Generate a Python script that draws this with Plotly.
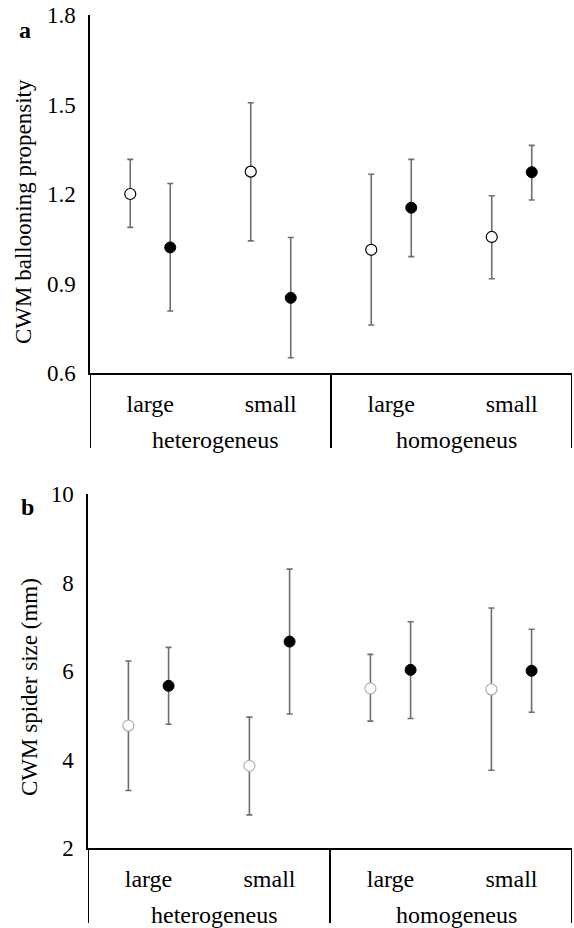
import plotly.graph_objects as go

# ---- data ----
habitat = ["heterogeneus", "heterogeneus", "homogeneus", "homogeneus"]
patch = ["large", "small", "large", "small"]
groups = ["heterogeneus", "homogeneus"]

ball_ticks = [0.6, 0.9, 1.2, 1.5, 1.8]
ball_open = [1.20, 1.275, 1.013, 1.056]
ball_open_hi = [1.316, 1.506, 1.266, 1.194]
ball_open_lo = [1.088, 1.043, 0.761, 0.916]
ball_fill = [1.021, 0.852, 1.154, 1.273]
ball_fill_hi = [1.235, 1.054, 1.316, 1.363]
ball_fill_lo = [0.808, 0.651, 0.990, 1.180]

size_ticks = [2, 4, 6, 8, 10]
size_open = [4.77, 3.86, 5.61, 5.59]
size_open_hi = [6.23, 4.96, 6.38, 7.43]
size_open_lo = [3.30, 2.75, 4.87, 3.76]
size_fill = [5.67, 6.67, 6.03, 6.01]
size_fill_hi = [6.54, 8.31, 7.12, 6.95]
size_fill_lo = [4.80, 5.03, 4.93, 5.07]

W, H = 574, 928
FONT = "Liberation Serif"
ERR = "#6e6e6e"
idx = list(range(len(patch)))


def px(x):
    return x / W


def py(y):
    return 1 - y / H


def err(v, hi, lo):
    return dict(type="data", symmetric=False,
                array=[h - x for h, x in zip(hi, v)],
                arrayminus=[x - l for x, l in zip(v, lo)],
                color=ERR, thickness=1.6, width=3)


fig = go.Figure()

# panel geometry (page pixels): x-axis baseline
panels = [
    dict(xa="x", ya="y", vo=ball_open, ho=ball_open_hi, lo=ball_open_lo,
         vf=ball_fill, hf=ball_fill_hi, lf=ball_fill_lo, ocol="black", base=373),
    dict(xa="x2", ya="y2", vo=size_open, ho=size_open_hi, lo=size_open_lo,
         vf=size_fill, hf=size_fill_hi, lf=size_fill_lo, ocol="#b0b0b0", base=848),
]
shapes, annotations = [], []
for p in panels:
    fig.add_trace(go.Scatter(
        x=idx, y=p["vo"], mode="markers", name="open", xaxis=p["xa"], yaxis=p["ya"],
        offsetgroup="open", showlegend=False,
        marker=dict(size=11, color="white", line=dict(color=p["ocol"], width=1.2)),
        error_y=err(p["vo"], p["ho"], p["lo"])))
    fig.add_trace(go.Scatter(
        x=idx, y=p["vf"], mode="markers", name="filled", xaxis=p["xa"], yaxis=p["ya"],
        offsetgroup="filled", showlegend=False,
        marker=dict(size=11, color="black", line=dict(color="black", width=1)),
        error_y=err(p["vf"], p["hf"], p["lf"])))
    # group dividers and group labels
    for gi, g in enumerate(groups):
        members = [i for i, h in enumerate(habitat) if h == g]
        lo_i, hi_i = min(members) - 0.5, max(members) + 0.5
        for xb in ([lo_i, hi_i] if gi == 0 else [hi_i]):
            shapes.append(dict(type="line", xref=p["xa"], yref="paper", x0=xb, x1=xb,
                               y0=py(p["base"]), y1=py(p["base"] + 75),
                               line=dict(color="black", width=2)))
        annotations.append(dict(text=g, x=(lo_i + hi_i) / 2, xref=p["xa"], xshift=5,
                                y=py(p["base"] + 67), yref="paper",
                                xanchor="center", yanchor="middle", showarrow=False,
                                font=dict(family=FONT, size=24, color="black")))

xcommon = dict(showline=True, linecolor="black", linewidth=1.5, automargin=False,
               range=[-0.5, len(patch) - 0.5], zeroline=False,
               tickmode="array", tickvals=idx, ticktext=patch,
               showgrid=False, ticks="", ticklabelstandoff=8,
               tickfont=dict(family=FONT, size=24, color="black"))
ycommon = dict(showline=True, linecolor="black", linewidth=1.5, showgrid=False, zeroline=False,
               ticks="outside", ticklen=8, tickcolor="rgba(0,0,0,0)", automargin=False,
               ticklabeloverflow="allow",
               tickfont=dict(family=FONT, size=23, color="black"))

annotations += [
    dict(text="CWM ballooning propensity", textangle=-90, x=px(23), y=py(212),
         xanchor="center", yanchor="middle", xref="paper", yref="paper", showarrow=False,
         font=dict(family=FONT, size=23, color="black")),
    dict(text="CWM spider size (mm)", textangle=-90, x=px(29), y=py(687),
         xanchor="center", yanchor="middle", xref="paper", yref="paper", showarrow=False,
         font=dict(family=FONT, size=23, color="black")),
    dict(text="<b>a</b>", x=px(25), y=py(30), xanchor="center", yanchor="middle",
         xref="paper", yref="paper", showarrow=False,
         font=dict(family=FONT, size=24, color="black")),
    dict(text="<b>b</b>", x=px(27), y=py(507), xanchor="center", yanchor="middle",
         xref="paper", yref="paper", showarrow=False,
         font=dict(family=FONT, size=24, color="black")),
]

fig.update_layout(
    width=W, height=H, margin=dict(l=0, r=0, t=0, b=0, autoexpand=False),
    paper_bgcolor="white", plot_bgcolor="white",
    scattermode="group", scattergap=0.336,
    xaxis=dict(domain=[px(90), px(572)], anchor="y", **xcommon),
    yaxis=dict(domain=[py(373), py(15)], anchor="x", range=[0.6, 1.8],
               tickmode="array", tickvals=ball_ticks,
               ticktext=[f"{v:.1f}" for v in ball_ticks], **ycommon),
    xaxis2=dict(domain=[px(88), px(572)], anchor="y2", **xcommon),
    yaxis2=dict(domain=[py(848), py(494.4)], anchor="x2", range=[2, 10],
                tickmode="array", tickvals=size_ticks,
                ticktext=[str(v) for v in size_ticks], **ycommon),
    shapes=shapes,
    annotations=annotations,
)

fig.write_html("out.html", config={"displayModeBar": False},
               post_script="document.body.style.margin='0';")
